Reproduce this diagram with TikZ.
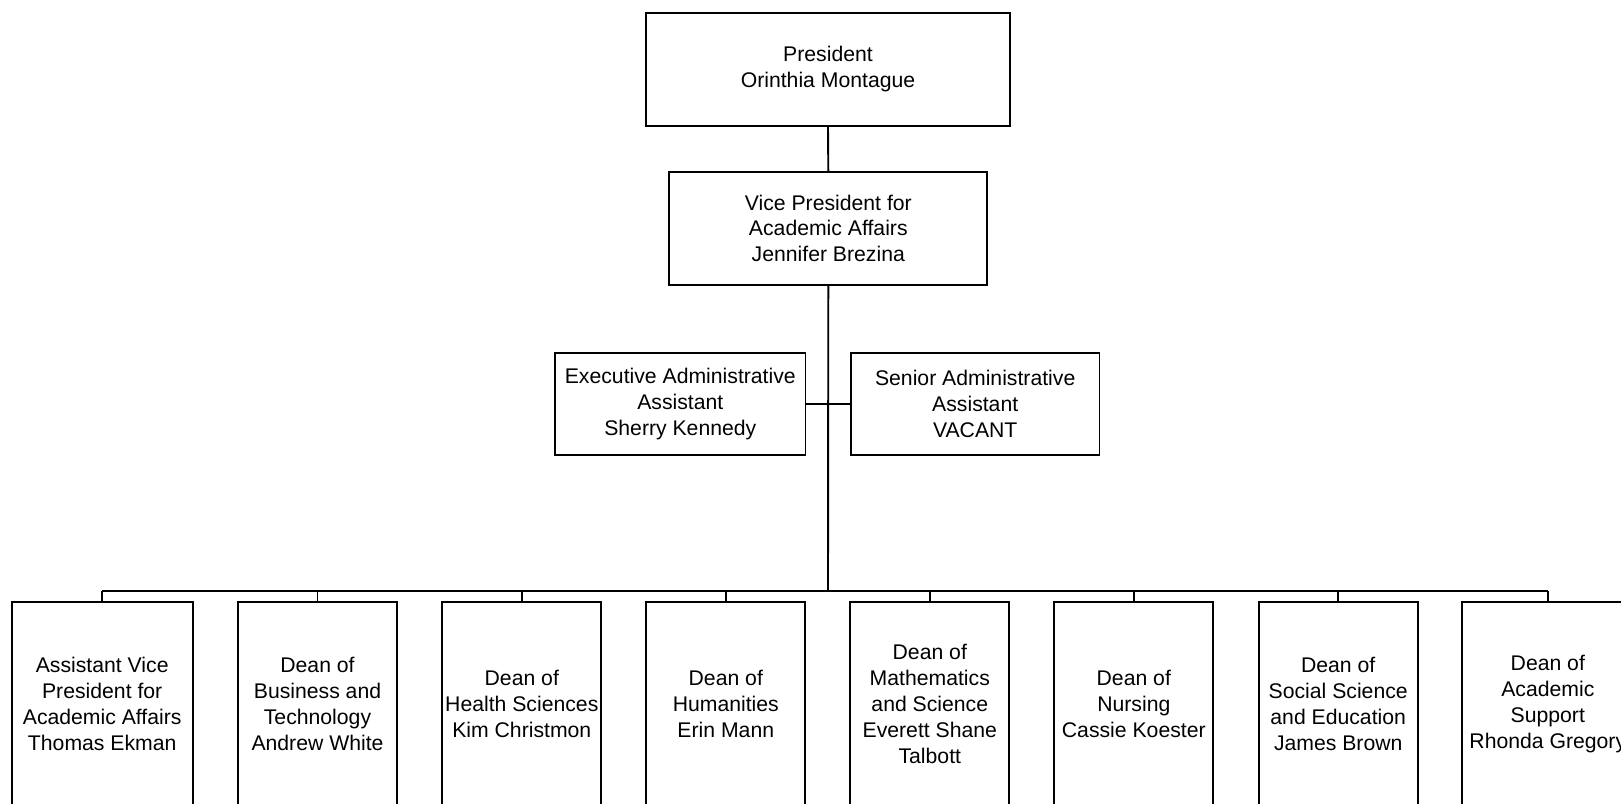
\documentclass[tikz,border=0pt]{standalone}
\usepackage{fontspec}
\setmainfont{Liberation Sans}
\begin{document}
\begin{tikzpicture}[x=1pt,y=-1pt,
  box/.style={draw=black, line width=1.7pt, fill=white, align=center, inner sep=0pt,
    font=\fontsize{21.2}{25.8}\selectfont, text=black},
  conn/.style={draw=black, line width=1.9pt},
  stub/.style={draw=black, line width=1.5pt}]
\path[use as bounding box, clip] (0,0) rectangle (1621,803);
\fill[white] (0,0) rectangle (1621,803);

\node[box, minimum width=364pt, minimum height=113.3pt] (pres) at (828,69.4) {President\\Orinthia Montague};
\node[box, minimum width=318pt, minimum height=113.3pt] (vp) at (828.3,228.3) {Vice President for\\Academic Affairs\\Jennifer Brezina};
\node[box, minimum width=250.5pt, minimum height=102.3pt] (exec) at (680.3,403.8) {Executive Administrative\\Assistant\\Sherry Kennedy};
\node[box, minimum width=248.5pt, minimum height=102.3pt] (senior) at (975.2,403.8) {Senior Administrative\\Assistant\\VACANT};

\coordinate (busc) at (828,591);

\node[box, minimum width=181pt, minimum height=204pt] (b1) at (102.2,704) {Assistant Vice\\President for\\Academic Affairs\\Thomas Ekman};
\node[box, minimum width=159pt, minimum height=204pt] (b2) at (317.5,704) {Dean of\\Business and\\Technology\\Andrew White};
\node[box, minimum width=159pt, minimum height=204pt] (b3) at (521.8,704) {Dean of\\Health Sciences\\Kim Christmon};
\node[box, minimum width=159pt, minimum height=204pt] (b4) at (725.8,704) {Dean of\\Humanities\\Erin Mann};
\node[box, minimum width=159pt, minimum height=204pt] (b5) at (929.8,704) {Dean of\\Mathematics\\and Science\\Everett Shane\\Talbott};
\node[box, minimum width=159pt, minimum height=204pt] (b6) at (1133.8,704) {Dean of\\Nursing\\Cassie Koester};
\node[box, minimum width=159pt, minimum height=204pt] (b7) at (1338.2,704) {Dean of\\Social Science\\and Education\\James Brown};
\node[box, minimum width=171pt, minimum height=204pt] (b8) at (1547.8,704) {Dean of\\Academic\\Support\\Rhonda Gregory};

\draw[conn] (pres.south) -- (vp.north);
\draw[conn] (vp.south) -- (busc);
\draw[conn] (exec.east) -- (senior.west);
\draw[conn] (b1.north |- busc) -- (b8.north |- busc);
\foreach \b in {b1,b2,b3,b4,b5,b6,b7,b8}
  \draw[stub] (\b.north) -- (\b.north |- busc);
\end{tikzpicture}
\end{document}
